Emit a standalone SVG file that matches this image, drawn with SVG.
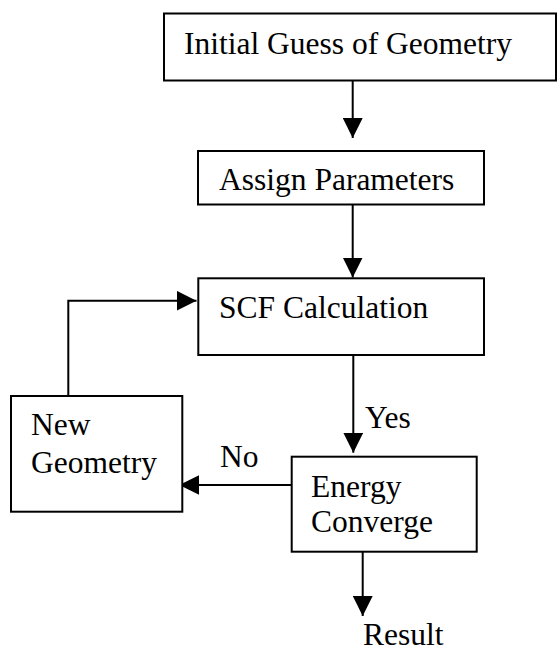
<svg xmlns="http://www.w3.org/2000/svg" width="559" height="651" viewBox="0 0 559 651">
  <style>
    .box { fill: #ffffff; stroke: #000000; stroke-width: 2; }
    .lbl { font-family: "Liberation Serif", "Times New Roman", serif; font-size: 31.5px; fill: #000000; }
    .wire { fill: none; stroke: #000000; stroke-width: 2; }
  </style>
  <defs>
    <marker id="head" markerUnits="userSpaceOnUse" markerWidth="20" markerHeight="20" viewBox="0 0 20 20" refX="20" refY="10" orient="auto">
      <path d="M0,0 L20,10 L0,20 Z" fill="#000000"/>
    </marker>
  </defs>
  <rect width="559" height="651" fill="#ffffff"/>

  <!-- connectors -->
  <g id="connectors">
    <line class="wire" x1="352.7" y1="80.5" x2="352.7" y2="138" marker-end="url(#head)"/>
    <line class="wire" x1="352.7" y1="204.5" x2="352.7" y2="277.5" marker-end="url(#head)"/>
    <line class="wire" x1="353.3" y1="355" x2="353.3" y2="452.7" marker-end="url(#head)"/>
    <line class="wire" x1="291.7" y1="485" x2="179.3" y2="485" marker-end="url(#head)"/>
    <path class="wire" d="M68.3,396 V300.7 H196.5" marker-end="url(#head)"/>
    <line class="wire" x1="362.7" y1="551.7" x2="362.7" y2="616" marker-end="url(#head)"/>
    <text class="lbl" x="365" y="428">Yes</text>
    <text class="lbl" x="220" y="467">No</text>
    <text class="lbl" x="363" y="645">Result</text>
  </g>

  <!-- nodes -->
  <g id="initial-guess">
    <rect class="box" x="164" y="13.5" width="392" height="67"/>
    <text class="lbl" x="184" y="53.5">Initial Guess of Geometry</text>
  </g>
  <g id="assign-parameters">
    <rect class="box" x="198" y="151" width="286" height="53.5"/>
    <text class="lbl" x="219" y="190">Assign Parameters</text>
  </g>
  <g id="scf-calculation">
    <rect class="box" x="198.3" y="278.3" width="285.7" height="76.7"/>
    <text class="lbl" x="219" y="318">SCF Calculation</text>
  </g>
  <g id="new-geometry">
    <rect class="box" x="11" y="396" width="171.3" height="115.7"/>
    <text class="lbl" x="31" y="435">New</text>
    <text class="lbl" x="31" y="473">Geometry</text>
  </g>
  <g id="energy-converge">
    <rect class="box" x="291.7" y="456.7" width="185" height="95"/>
    <text class="lbl" x="311" y="496.5">Energy</text>
    <text class="lbl" x="311" y="531.7">Converge</text>
  </g>
</svg>
